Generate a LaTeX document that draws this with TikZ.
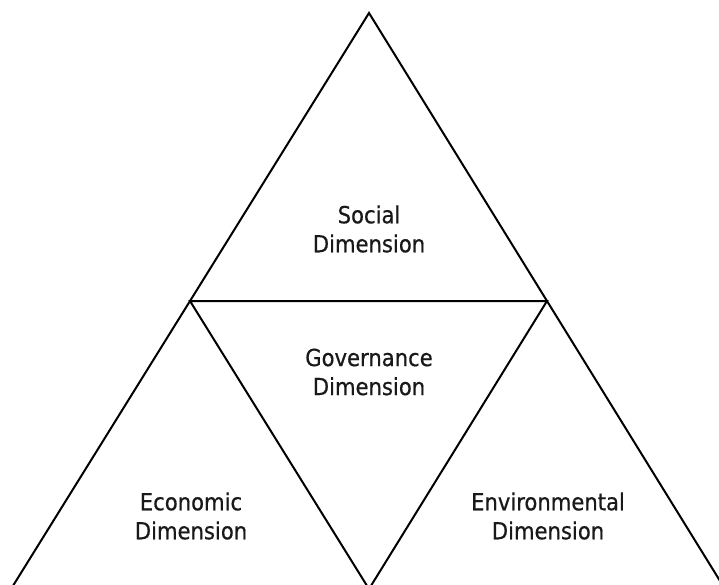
\documentclass[tikz,border=0pt]{standalone}
\usepackage{fontspec}
\setmainfont[FakeBold=0.6]{DejaVu Sans Condensed}

\tikzset{
	edge/.style={line width=2pt, line join=miter, black},
	dimlabel/.style={align=center, font=\fontsize{23.5}{29}\selectfont, text=black!90}
}

\begin{document}
\begin{tikzpicture}[x=1pt, y=-1pt]
	% --- CANVAS ---
	\useasboundingbox (0,0) rectangle (719,585);
	\clip (0,0) rectangle (719,585);

	% --- CORNER POINTS ---
	\coordinate (apex) at (369,13);
	\coordinate (midL) at (190,301);
	\coordinate (midR) at (547,301);
	\coordinate (baseL) at (11,589);
	\coordinate (baseM) at (369,589);
	\coordinate (baseR) at (725,589);

	% --- OUTER TRIANGLE ---
	\draw[edge] (baseL) -- (apex) -- (baseR);

	% --- INNER (INVERTED) TRIANGLE ---
	\draw[edge] (midL) -- (midR) -- (baseM) -- cycle;

	% --- LABELS ---
	\node[dimlabel] (social) at (369,229) {Social\\Dimension};
	\node[dimlabel] (governance) at (369,372) {Governance\\Dimension};
	\node[dimlabel] (economic) at (191,516) {Economic\\Dimension};
	\node[dimlabel] (environmental) at (548,516) {Environmental\\Dimension};

\end{tikzpicture}
\end{document}
